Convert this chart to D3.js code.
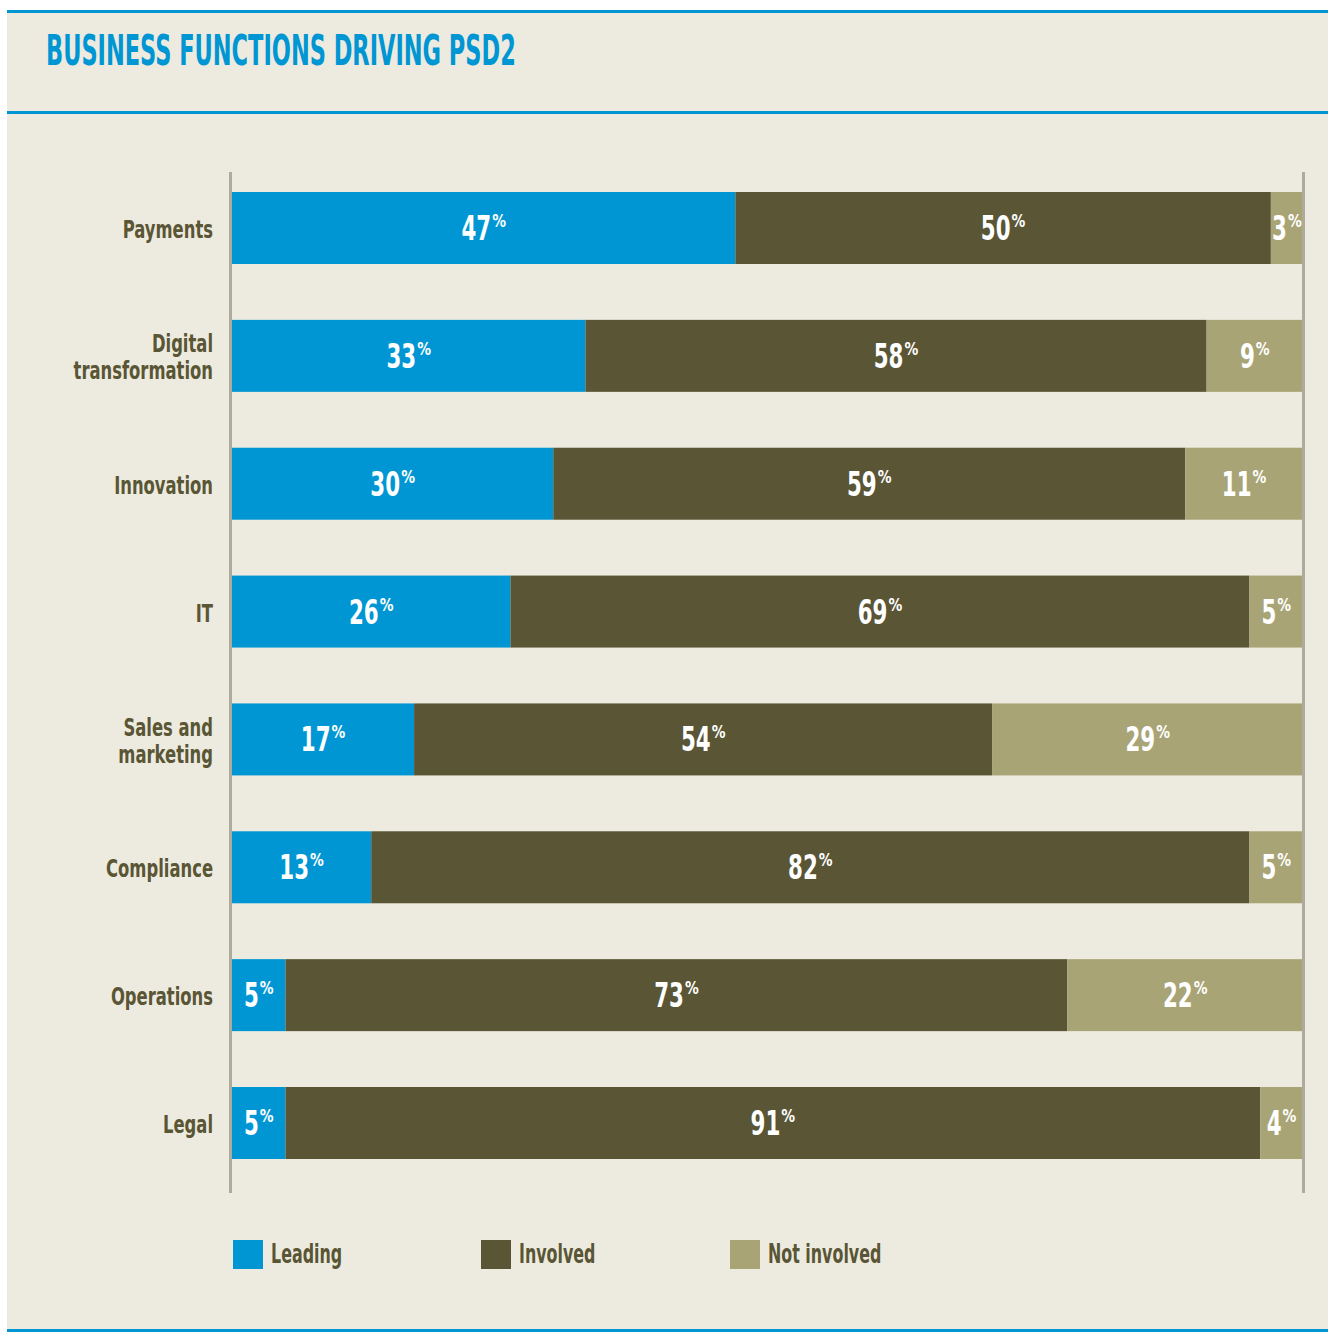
<!DOCTYPE html>
<html>
<head>
<meta charset="utf-8">
<script src="https://cdn.jsdelivr.net/npm/d3@7"></script>
<style>
  body { margin: 0; background: #ffffff; }
  svg { display: block; }
  text { font-family: "Liberation Sans Narrow", "DejaVu Sans Condensed", "Roboto", sans-serif; font-weight: bold; }
</style>
</head>
<body>
<svg id="chart"></svg>
<script>
// Chart data
const categories = ["Payments", "Digital transformation", "Innovation", "IT", "Sales and marketing", "Compliance", "Operations", "Legal"];
const leading = [47, 33, 30, 26, 17, 13, 5, 5];
const involved = [50, 58, 59, 69, 54, 82, 73, 91];
const notInvolved = [3, 9, 11, 5, 29, 5, 22, 4];
const seriesNames = ["Leading", "Involved", "Not involved"];
const title = "BUSINESS FUNCTIONS DRIVING PSD2";

// Constants
const width = 1328;
const height = 1332;
const colors = ["#0096d4", "#595535", "#a9a475"];
const blue = "#0096d4";
const textColor = "#595535";
const axisColor = "#adab9b";

const svg = d3.select("#chart").attr("width", width).attr("height", height);

// panel background and blue rules
svg.append("rect").attr("x", 7).attr("y", 10).attr("width", width - 7).attr("height", height - 10).attr("fill", "#edebdf");
[11.5, 112.5, 1330.5].forEach(y => {
    svg.append("line").attr("x1", 7).attr("x2", width).attr("y1", y).attr("y2", y)
        .attr("stroke", blue).attr("stroke-width", 3);
});

// put a text at (x, y) squeezed horizontally so it reads like a condensed face
function placeCondensed(sel, x, y, factor) {
    sel.attr("x", 0).attr("y", 0)
        .attr("transform", `translate(${x},${y}) scale(${factor},1)`);
    return sel.node().getComputedTextLength() * factor;
}

// title
const titleText = svg.append("text")
    .attr("fill", blue)
    .attr("font-size", 42)
    .text(title);
placeCondensed(titleText, 46, 65, 470 / titleText.node().getComputedTextLength());

// stack the three series per category
const rows = categories.map((c, i) => ({ category: c, Leading: leading[i], Involved: involved[i], "Not involved": notInvolved[i] }));
const stacked = d3.stack().keys(seriesNames)(rows);

const xScale = d3.scaleLinear().domain([0, 100]).range([232, 1303]);
const yScale = d3.scaleBand()
    .domain(categories)
    .range([164.07, 1186.93])
    .paddingInner(0.437)
    .paddingOuter(0.2185);

// bars
const layers = svg.selectAll("g.layer").data(stacked).enter().append("g")
    .attr("class", "layer")
    .attr("fill", (d, i) => colors[i]);

layers.selectAll("rect").data(d => d).enter().append("rect")
    .attr("x", d => xScale(d[0]))
    .attr("y", d => yScale(d.data.category))
    .attr("width", d => xScale(d[1]) - xScale(d[0]))
    .attr("height", yScale.bandwidth());

// value labels: big number, small raised % next to it, centred together in the segment
layers.each(function (layer) {
    const g = d3.select(this).selectAll("g.val").data(layer).enter().append("g").attr("class", "val");
    g.each(function (d) {
        const cx = (xScale(d[0]) + xScale(d[1])) / 2;
        const cy = yScale(d.data.category) + yScale.bandwidth() / 2;
        const num = d3.select(this).append("text")
            .attr("fill", "#ffffff")
            .attr("font-size", 33)
            .text(d[1] - d[0]);
        const pct = d3.select(this).append("text")
            .attr("fill", "#ffffff")
            .attr("font-size", 18)
            .text("%");
        const w1 = num.node().getComputedTextLength() * 0.72;
        const w2 = pct.node().getComputedTextLength() * 0.85;
        const left = cx - (w1 + w2 + 1) / 2;
        placeCondensed(num, left, cy + 12, 0.72);
        placeCondensed(pct, left + w1 + 1, cy - 1, 0.85);
    });
});

// axis rules on both sides
[230.5, 1303.5].forEach(x => {
    svg.append("line").attr("x1", x).attr("x2", x).attr("y1", 172).attr("y2", 1193)
        .attr("stroke", axisColor).attr("stroke-width", 3);
});

// category labels, wrapped the same way as the original
const labelLines = {
    "Digital transformation": ["Digital", "transformation"],
    "Sales and marketing": ["Sales and", "marketing"]
};
const lineGap = 27;
categories.forEach(c => {
    const lines = labelLines[c] || [c];
    const cy = yScale(c) + yScale.bandwidth() / 2;
    const top = cy + 10 - (lines.length - 1) * lineGap / 2;
    lines.forEach((line, j) => {
        const t = svg.append("text")
            .attr("text-anchor", "end")
            .attr("fill", textColor)
            .attr("font-size", 24)
            .text(line);
        placeCondensed(t, 213, top + j * lineGap, 0.76);
    });
});

// legend
const legendX = [233, 481, 730];
const legend = svg.selectAll("g.legend").data(seriesNames).enter().append("g")
    .attr("class", "legend")
    .attr("transform", (d, i) => `translate(${legendX[i]},1240)`);
legend.append("rect").attr("width", 30).attr("height", 29).attr("fill", (d, i) => colors[i]);
legend.append("text")
    .attr("fill", textColor)
    .attr("font-size", 26)
    .text(d => d)
    .each(function () { placeCondensed(d3.select(this), 38, 23, 0.68); });
</script>
</body>
</html>
